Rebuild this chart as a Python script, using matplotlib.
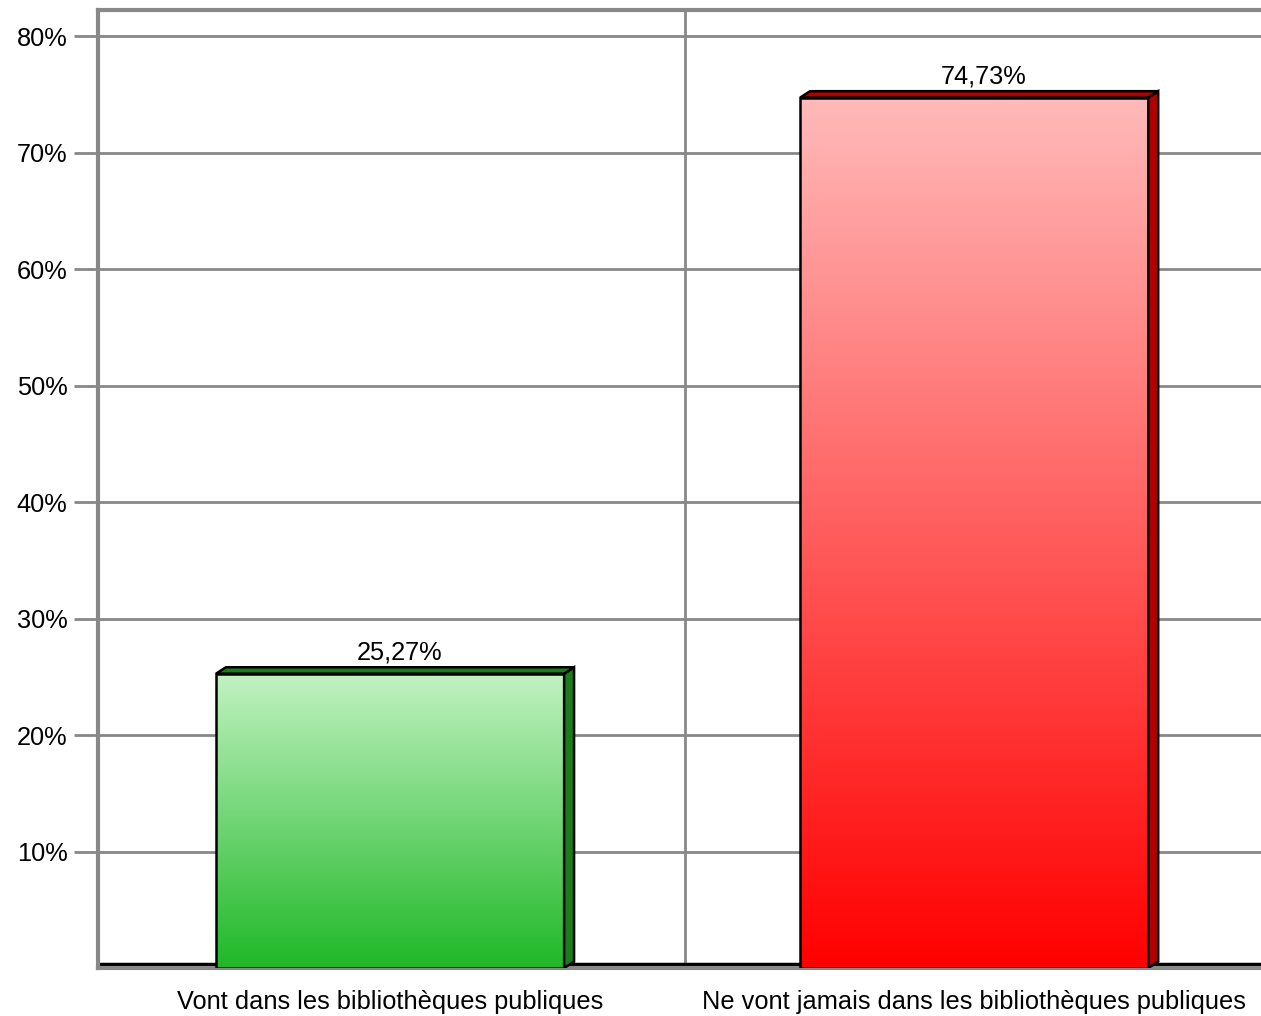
import numpy as np
import matplotlib.pyplot as plt
from matplotlib.patches import Polygon, Rectangle
from matplotlib.colors import LinearSegmentedColormap

plt.rcParams['font.family'] = ['Liberation Sans', 'DejaVu Sans']

categories = ['Vont dans les bibliothèques publiques',
              'Ne vont jamais dans les bibliothèques publiques']
values = [25.27, 74.73]
labels = ['25,27%', '74,73%']
yticks = [10, 20, 30, 40, 50, 60, 70, 80]
ytick_labels = ['10%', '20%', '30%', '40%', '50%', '60%', '70%', '80%']

# colours: gradient top/bottom, side face
top_cols = ['#c2f2c2', '#ffbaba']
bot_cols = ['#20b828', '#ff0000']
side_cols = ['#1c7c1c', '#b00000']

fs = 18.3

fig = plt.figure(figsize=(12.61, 10.16), dpi=100)
ax = fig.add_axes([98 / 1261, 1 - 968 / 1016, 1 - 98 / 1261, (968 - 10) / 1016])
ax.set_xlim(-0.5, 1.491)
ax.set_ylim(0, 82.25)

# grid
ax.set_yticks(yticks)
ax.set_yticklabels(ytick_labels, fontsize=fs)
ax.yaxis.grid(True, color='#888888', lw=2)
ax.axvline(0.505, color='#888888', lw=2, zorder=1)
ax.set_axisbelow(True)
ax.tick_params(axis='y', length=17, width=2, color='#888888', pad=5)
ax.set_xticks([0.0, 1.0])
ax.set_xticklabels(categories, fontsize=fs)
ax.tick_params(axis='x', length=0, pad=16)

for s in ['left', 'top', 'bottom']:
    ax.spines[s].set_color('#888888')
    ax.spines[s].set_linewidth(3)
ax.spines['right'].set_visible(False)

# floor back edge
ax.plot([-0.5, 1.5], [0.35, 0.35], color='black', lw=2.5, zorder=2, solid_capstyle='butt')

dx = 0.017
dy = 0.55
half = 0.298
for i, v in enumerate(values):
    x0 = i - half
    x1 = i + half
    cmap = LinearSegmentedColormap.from_list('g%d' % i, [bot_cols[i], top_cols[i]])
    grad = np.linspace(0, 1, 256).reshape(-1, 1)
    im = ax.imshow(grad, cmap=cmap, origin='lower', aspect='auto',
                   extent=[x0, x1, 0, v], zorder=3)
    rect = Rectangle((x0, 0), x1 - x0, v, fill=False, ec='black', lw=1.8, zorder=4)
    ax.add_patch(rect)
    im.set_clip_path(rect)
    side = Polygon([[x1, 0], [x1 + dx, dy], [x1 + dx, v + dy], [x1, v]],
                   closed=True, fc=side_cols[i], ec='black', lw=1.8, zorder=4)
    top = Polygon([[x0, v], [x0 + dx, v + dy], [x1 + dx, v + dy], [x1, v]],
                  closed=True, fc=side_cols[i], ec='black', lw=1.8, zorder=4)
    ax.add_patch(side)
    ax.add_patch(top)
    ax.text((x0 + x1) / 2 + dx / 2 + 0.007, v + dy + 0.25, labels[i], ha='center', va='bottom',
            fontsize=fs, zorder=5)

fig.savefig('out.png', dpi=100)
